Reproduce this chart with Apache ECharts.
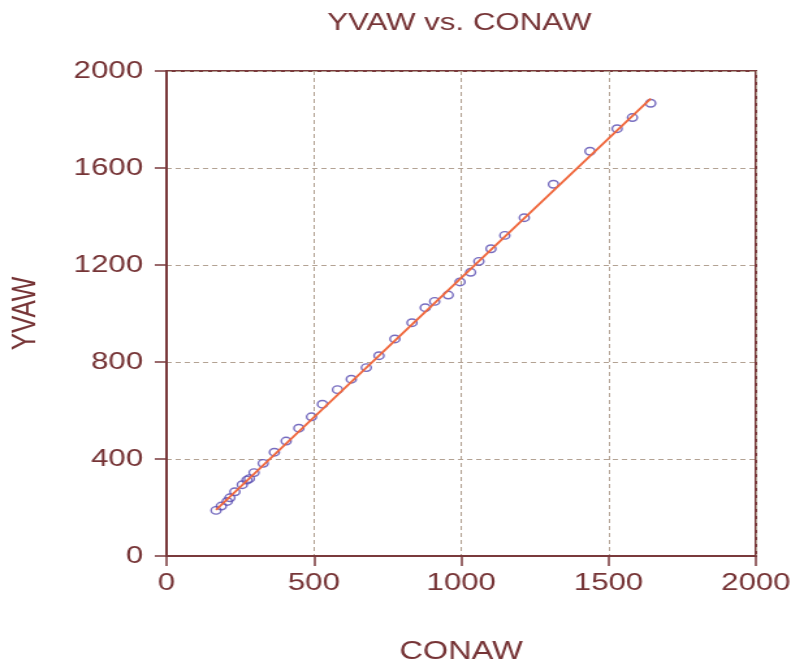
<!DOCTYPE html>
<html><head><meta charset="utf-8">
<script src="https://cdn.jsdelivr.net/npm/echarts@6/dist/echarts.min.js"></script>
<style>
html,body{margin:0;padding:0;background:#fff;overflow:hidden;}
#wrap{width:791px;height:666px;overflow:hidden;}
#main{width:608px;height:666px;transform:scaleX(1.301);transform-origin:0 0;}
</style></head><body>
<div id="wrap"><div id="main"></div></div>
<script>
const titleText = 'YVAW vs. CONAW';
const xName = 'CONAW';
const yName = 'YVAW';
const conaw = [168,186,206,215,232,257,273,281,297,328,366,406,449,492,529,580,627,678,721,775,833,878,910,956,996,1032,1060,1101,1148,1214,1313,1437,1529,1581,1643];
const yvaw  = [188,206,225,240,265,294,313,319,344,382,428,474,527,574,626,686,729,777,826,895,962,1024,1050,1076,1130,1170,1215,1267,1322,1395,1533,1669,1762,1808,1867];
const fitX = [168, 1643];
const fitY = [190, 1886];
const xTicks = [0, 500, 1000, 1500, 2000];
const yTicks = [0, 400, 800, 1200, 1600, 2000];

const FONT = '"Liberation Sans", Arial, sans-serif';
const TXT = '#763436';
const FRAME = '#7a3a3c';
const GRIDC = '#b3a293';

const chart = echarts.init(document.getElementById('main'), null, {renderer: 'canvas'});
chart.setOption({
  animation: false,
  backgroundColor: '#ffffff',
  title: {
    text: titleText, left: 353, top: 11, textAlign: 'center', padding: 0,
    textStyle: {color: TXT, fontFamily: FONT, fontSize: 24, fontWeight: 'normal'}
  },
  grid: {
    left: 128, right: 27, top: 71, bottom: 110, show: true,
    containLabel: false, outerBoundsMode: 'none',
    borderColor: FRAME, borderWidth: 2, backgroundColor: 'transparent'
  },
  xAxis: {
    type: 'value', min: xTicks[0], max: xTicks[xTicks.length-1], interval: xTicks[1]-xTicks[0],
    name: xName, nameLocation: 'middle', nameGap: 84,
    nameTextStyle: {color: TXT, fontFamily: FONT, fontSize: 25},
    axisLine: {show: true, lineStyle: {color: FRAME, width: 2}},
    axisTick: {show: true, inside: false, length: 10, lineStyle: {color: FRAME, width: 1.5}},
    axisLabel: {color: TXT, fontFamily: FONT, fontSize: 24, margin: 15, formatter: v => String(v), showMaxLabel: true, showMinLabel: true},
    splitLine: {show: true, lineStyle: {color: GRIDC, type: [4, 3], width: 1}}
  },
  yAxis: {
    type: 'value', min: yTicks[0], max: yTicks[yTicks.length-1], interval: yTicks[1]-yTicks[0],
    name: yName, nameLocation: 'middle', nameGap: 95, nameRotate: 90,
    nameTextStyle: {color: TXT, fontFamily: FONT, fontSize: 26},
    axisLine: {show: true, lineStyle: {color: FRAME, width: 2}},
    axisTick: {show: true, inside: false, length: 9, lineStyle: {color: FRAME, width: 1.5}},
    axisLabel: {color: TXT, fontFamily: FONT, fontSize: 24, margin: 18, formatter: v => String(v)},
    splitLine: {show: true, lineStyle: {color: GRIDC, type: [4, 3], width: 1}}
  },
  series: [
    {
      type: 'scatter', symbol: 'circle', symbolSize: 7.5,
      data: conaw.map((x, i) => [x, yvaw[i]]),
      itemStyle: {color: 'rgba(0,0,0,0)', borderColor: '#5548b0', borderWidth: 1.4},
      z: 2
    },
    {
      type: 'line', symbol: 'none',
      data: fitX.map((x, i) => [x, fitY[i]]),
      lineStyle: {color: '#f0673c', width: 1.8},
      z: 3
    }
  ]
});
</script>
</body></html>
